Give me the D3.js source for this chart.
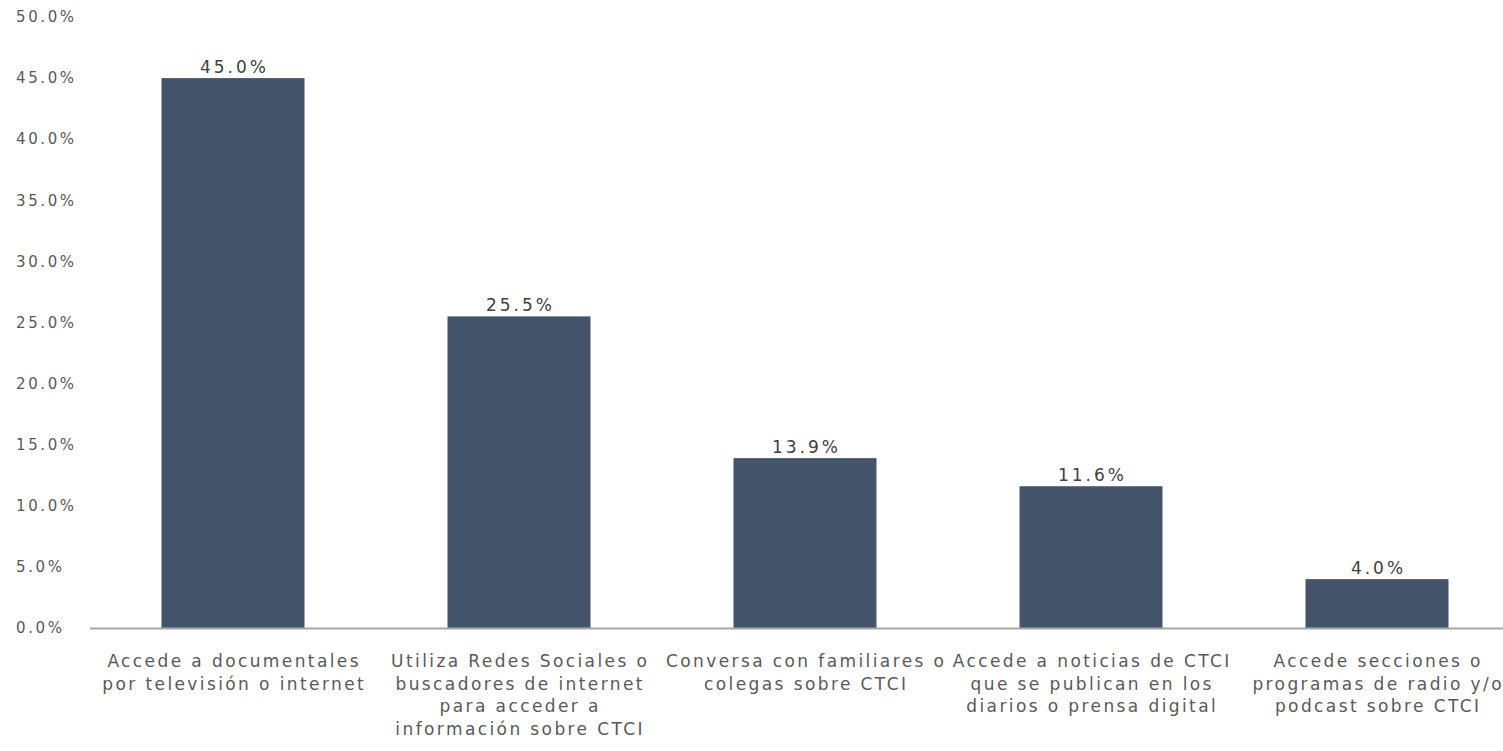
<!DOCTYPE html>
<html>
<head>
<meta charset="utf-8">
<script src="https://cdn.jsdelivr.net/npm/d3@7"></script>
<style>
  body { margin: 0; background: #fff; }
  svg { display: block; font-family: "DejaVu Sans", Verdana, sans-serif; }
</style>
</head>
<body>
<div id="chart"></div>
<script>
var categories = [
  ["Accede a documentales", "por televisión o internet"],
  ["Utiliza Redes Sociales o", "buscadores de internet", "para acceder a", "información sobre CTCI"],
  ["Conversa con familiares o", "colegas sobre CTCI"],
  ["Accede a noticias de CTCI", "que se publican en los", "diarios o prensa digital"],
  ["Accede secciones o", "programas de radio y/o", "podcast sobre CTCI"]
];
var values = [45.0, 25.5, 13.9, 11.6, 4.0];
var ticks = [0, 5, 10, 15, 20, 25, 30, 35, 40, 45, 50];

var width = 1503, height = 751;
var margin = {top: 17, right: -17, bottom: 123, left: 90};

var svg = d3.select("#chart")
  .append("svg")
  .attr("width", width)
  .attr("height", height);

var x = d3.scaleBand()
  .domain(d3.range(values.length))
  .range([margin.left, width - margin.right])
  .paddingInner(0.5)
  .paddingOuter(0.25);

var y = d3.scaleLinear()
  .domain([0, 50])
  .range([height - margin.bottom, margin.top]);

// y tick labels (no axis line)
svg.append("g")
  .selectAll("text")
  .data(ticks)
  .enter().append("text")
  .attr("x", 16)
  .attr("y", d => y(d))
  .attr("dy", "0.35em")
  .attr("font-size", 15)
  .attr("fill", "#595959")
  .style("letter-spacing", "2.6px")
  .text(d => d.toFixed(1) + "%");

// bars
svg.append("g")
  .selectAll("rect")
  .data(values)
  .enter().append("rect")
  .attr("x", (d, i) => x(i))
  .attr("y", d => y(d))
  .attr("width", x.bandwidth())
  .attr("height", d => y(0) - y(d))
  .attr("fill", "#44546A");

// baseline
svg.append("line")
  .attr("x1", margin.left)
  .attr("x2", width)
  .attr("y1", y(0) + 0.5)
  .attr("y2", y(0) + 0.5)
  .attr("stroke", "#a6a6a6")
  .attr("stroke-width", 2);

// value labels
svg.append("g")
  .selectAll("text")
  .data(values)
  .enter().append("text")
  .attr("x", (d, i) => x(i) + x.bandwidth() / 2)
  .attr("y", d => y(d) - 5)
  .attr("dx", 1.5)
  .attr("text-anchor", "middle")
  .attr("font-size", 17)
  .attr("fill", "#404040")
  .style("letter-spacing", "3px")
  .text(d => d.toFixed(1) + "%");

// category labels
var labels = svg.append("g")
  .selectAll("text")
  .data(categories)
  .enter().append("text")
  .attr("x", (d, i) => x(i) + x.bandwidth() / 2 + 1.2)
  .attr("y", y(0) + 39)
  .attr("text-anchor", "middle")
  .attr("font-size", 17)
  .attr("fill", "#595959")
  .style("letter-spacing", "2.4px");

labels.selectAll("tspan")
  .data(d => d)
  .enter().append("tspan")
  .attr("x", function() { return this.parentNode.getAttribute("x"); })
  .attr("dy", (d, i) => i === 0 ? 0 : 22.5)
  .text(d => d);
</script>
</body>
</html>
